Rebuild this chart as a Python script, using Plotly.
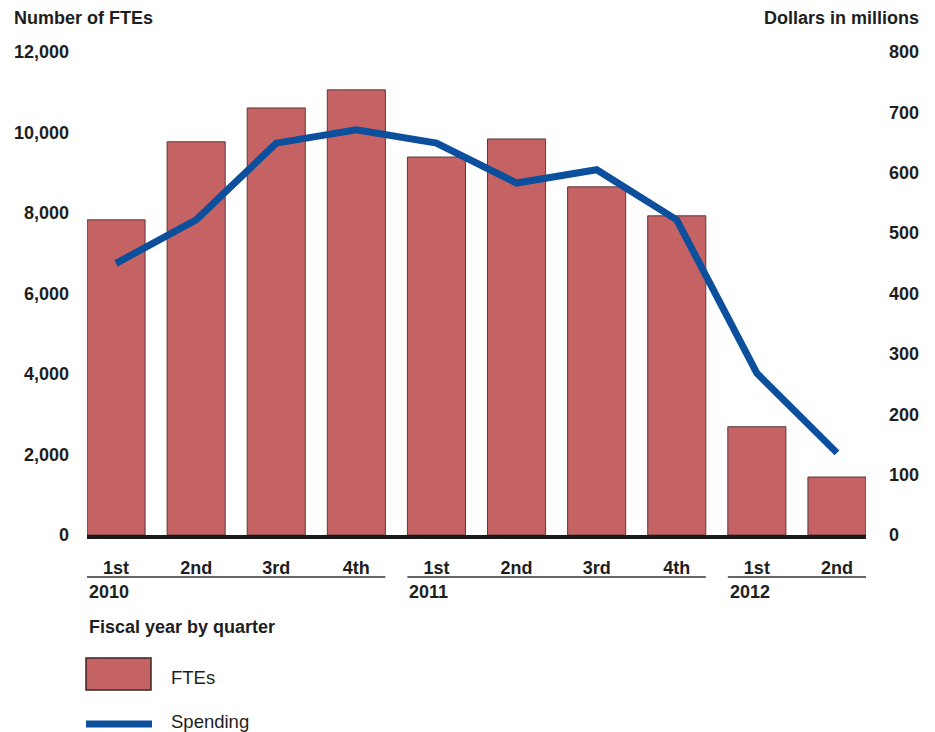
import plotly.graph_objects as go

# Quarterly data, fiscal years 2010-2012
quarters = ["1st", "2nd", "3rd", "4th", "1st", "2nd", "3rd", "4th", "1st", "2nd"]
fiscal_years = ["2010", "2011", "2012"]
year_spans = [(0, 3), (4, 7), (8, 9)]  # index of first/last quarter in each year
ftes = [7830, 9770, 10610, 11060, 9390, 9840, 8650, 7930, 2690, 1440]
spending = [450, 522, 649, 671, 649, 583, 605, 522, 268, 136]

W, H = 935, 732
L, R, T, B = 87, 866, 52, 535  # plot area in pixels

BAR = "#C46264"
BAR_EDGE = "#5A3B3B"
LINE = "#0C4F9C"
TXT = "#1E1E1E"
FONT = "Liberation Sans, Arial, sans-serif"
FS_BOLD = 18
FS_REG = 18.5


def py(y):
    """pixel row -> paper y"""
    return (B - y) / (B - T)


def px(x):
    """pixel column -> paper x"""
    return (x - L) / (R - L)


xs = list(range(len(quarters)))
half = 0.3625

fig = go.Figure()
fig.add_trace(go.Bar(
    x=xs, y=ftes, name="FTEs",
    marker=dict(color=BAR, line=dict(color=BAR_EDGE, width=1)),
    width=2 * half, showlegend=False,
))
fig.add_trace(go.Scatter(
    x=xs, y=spending, name="Spending", yaxis="y2", mode="lines",
    line=dict(color=LINE, width=7), showlegend=False,
))

shapes = []
annotations = []

# year group underlines and year labels
for yr, (a, b) in zip(fiscal_years, year_spans):
    shapes.append(dict(type="line", xref="x", yref="paper",
                       x0=a - half, x1=b + half, y0=py(577), y1=py(577),
                       line=dict(color="#333333", width=1.5)))
    annotations.append(dict(xref="x", yref="paper", x=a - half, y=py(592),
                            text=f"<b>{yr}</b>", showarrow=False,
                            xanchor="left", yanchor="middle",
                            font=dict(size=FS_BOLD, color=TXT, family=FONT)))

# axis titles
annotations.append(dict(xref="paper", yref="paper", x=px(12), y=py(18),
                        text="<b>Number of FTEs</b>", showarrow=False,
                        xanchor="left", yanchor="middle",
                        font=dict(size=FS_BOLD, color=TXT, family=FONT)))
annotations.append(dict(xref="paper", yref="paper", x=px(921), y=py(18),
                        text="<b>Dollars in millions</b>", showarrow=False,
                        xanchor="right", yanchor="middle",
                        font=dict(size=FS_BOLD, color=TXT, family=FONT)))
annotations.append(dict(xref="paper", yref="paper", x=px(87), y=py(627),
                        text="<b>Fiscal year by quarter</b>", showarrow=False,
                        xanchor="left", yanchor="middle",
                        font=dict(size=FS_BOLD, color=TXT, family=FONT)))

# legend
shapes.append(dict(type="rect", xref="paper", yref="paper",
                   x0=px(86), x1=px(151), y0=py(690), y1=py(658),
                   fillcolor=BAR, line=dict(color="#3A2626", width=1.5)))
shapes.append(dict(type="line", xref="paper", yref="paper",
                   x0=px(86), x1=px(152), y0=py(724), y1=py(724),
                   line=dict(color=LINE, width=7)))
annotations.append(dict(xref="paper", yref="paper", x=px(169), y=py(677),
                        text="FTEs", showarrow=False,
                        xanchor="left", yanchor="middle",
                        font=dict(size=FS_REG, color=TXT, family=FONT)))
annotations.append(dict(xref="paper", yref="paper", x=px(169), y=py(721),
                        text="Spending", showarrow=False,
                        xanchor="left", yanchor="middle",
                        font=dict(size=FS_REG, color=TXT, family=FONT)))

fig.update_layout(
    width=W, height=H,
    margin=dict(l=L, r=W - R, t=T, b=H - B, pad=0),
    paper_bgcolor="white", plot_bgcolor="white",
    font=dict(family=FONT, color=TXT, size=FS_BOLD),
    bargap=0.275,
    xaxis=dict(
        range=[-half, len(quarters) - 1 + half],
        tickvals=xs, ticktext=[f"<b>{q}</b>" for q in quarters],
        showgrid=False, zeroline=False,
        showline=True, linecolor="#1A1A1A", linewidth=4,
        ticks="", ticklabelstandoff=13,
        tickfont=dict(size=FS_BOLD, color=TXT, family=FONT),
        fixedrange=True,
    ),
    yaxis=dict(
        range=[0, 12000], tickvals=list(range(0, 12001, 2000)),
        ticktext=[f"<b>{v:,}</b>" for v in range(0, 12001, 2000)],
        showgrid=False, zeroline=False, showline=False, ticks="",
        ticklabelstandoff=17,
        tickfont=dict(size=FS_BOLD, color=TXT, family=FONT),
    ),
    yaxis2=dict(
        range=[0, 800], tickvals=list(range(0, 801, 100)),
        ticktext=[f"<b>{v}</b>" for v in range(0, 801, 100)],
        overlaying="y", side="right",
        showgrid=False, zeroline=False, showline=False, ticks="",
        ticklabelstandoff=22,
        tickfont=dict(size=FS_BOLD, color=TXT, family=FONT),
    ),
    shapes=shapes,
    annotations=annotations,
)

fig.write_html("out.html")
